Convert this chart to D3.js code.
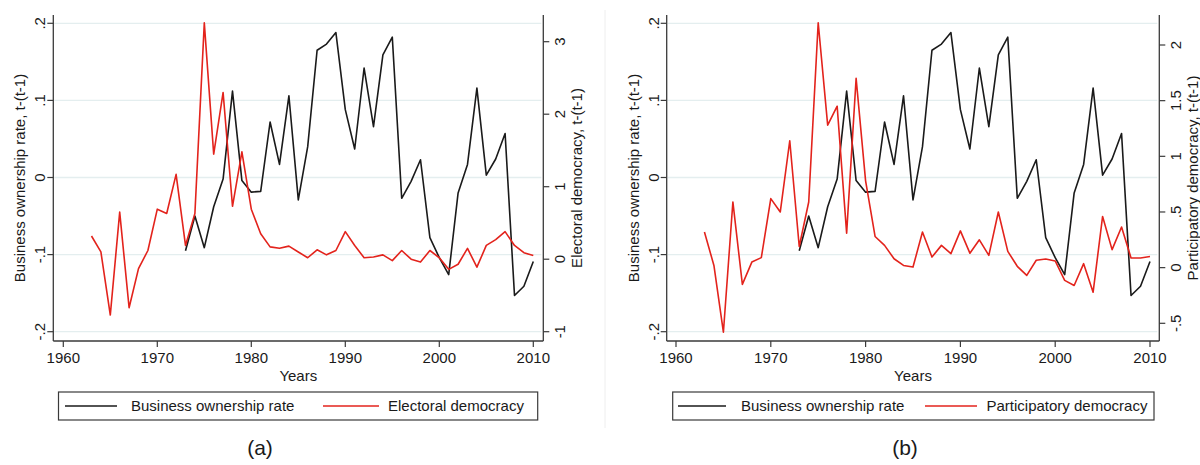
<!DOCTYPE html>
<html>
<head>
<meta charset="utf-8">
<script src="https://cdn.jsdelivr.net/npm/d3@7"></script>
<style>
  html, body { margin: 0; padding: 0; background: #fff; }
  svg { display: block; font-family: "Liberation Sans", Arial, sans-serif; }
</style>
</head>
<body>
<svg id="chart" width="1200" height="465"></svg>
<script>
// ---------- data ----------
const ownershipYears = [1973,1974,1975,1976,1977,1978,1979,1980,1981,1982,1983,1984,1985,1986,1987,1988,1989,1990,1991,1992,1993,1994,1995,1996,1997,1998,1999,2000,2001,2002,2003,2004,2005,2006,2007,2008,2009,2010];
const ownershipRate = [-0.095,-0.050,-0.091,-0.038,-0.002,0.112,-0.004,-0.019,-0.018,0.072,0.017,0.106,-0.029,0.040,0.165,0.173,0.188,0.088,0.037,0.142,0.066,0.159,0.182,-0.027,-0.005,0.023,-0.078,-0.104,-0.126,-0.020,0.017,0.116,0.003,0.024,0.057,-0.153,-0.141,-0.109];

const democracyYears = [1963,1964,1965,1966,1967,1968,1969,1970,1971,1972,1973,1974,1975,1976,1977,1978,1979,1980,1981,1982,1983,1984,1985,1986,1987,1988,1989,1990,1991,1992,1993,1994,1995,1996,1997,1998,1999,2000,2001,2002,2003,2004,2005,2006,2007,2008,2009,2010];
const electoralDemocracy = [0.32,0.10,-0.77,0.65,-0.67,-0.13,0.12,0.69,0.63,1.17,0.19,0.63,3.26,1.45,2.30,0.73,1.48,0.69,0.35,0.17,0.15,0.18,0.10,0.02,0.13,0.06,0.12,0.38,0.19,0.02,0.03,0.06,-0.02,0.12,0.00,-0.04,0.12,0.02,-0.14,-0.07,0.15,-0.11,0.19,0.27,0.38,0.19,0.09,0.05];
const participatoryDemocracy = [0.32,0.02,-0.58,0.59,-0.15,0.05,0.09,0.62,0.50,1.14,0.19,0.59,2.20,1.28,1.45,0.31,1.70,0.78,0.28,0.20,0.08,0.02,0.005,0.32,0.095,0.20,0.126,0.33,0.13,0.25,0.11,0.50,0.146,0.012,-0.07,0.066,0.077,0.06,-0.114,-0.16,0.036,-0.22,0.46,0.162,0.365,0.087,0.087,0.10];

const xTicks = [1960,1970,1980,1990,2000,2010];
const leftTicks = [-0.2,-0.1,0,0.1,0.2];
const leftTickLabels = ["-.2","-.1","0",".1",".2"];
const electoralTicks = [-1,0,1,2,3];
const electoralTickLabels = ["-1","0","1","2","3"];
const participatoryTicks = [-0.5,0,0.5,1,1.5,2];
const participatoryTickLabels = ["-.5","0",".5","1","1.5","2"];

const seriesNames = ["Business ownership rate","Electoral democracy","Participatory democracy"];
const panelLabels = ["(a)","(b)"];
const leftTitle = "Business ownership rate, t-(t-1)";
const rightTitles = ["Electoral democracy, t-(t-1)","Participatory democracy, t-(t-1)"];
const xTitle = "Years";

// ---------- drawing ----------
const svg = d3.select("#chart");
const BLACK = "#1a1a1a", RED = "#e3231c", AXIS = "#3a3a3a", GRID = "#e4eeef";
const FONT = 15;

function drawPanel(cfg) {
  const g = svg.append("g");
  const x = d3.scaleLinear().domain([1960, 2010]).range([cfg.x0, cfg.x1]);
  const yL = d3.scaleLinear().domain([-0.2, 0.2]).range([331.7, 23.3]);
  const yR = d3.scaleLinear().domain(cfg.rDomain).range(cfg.rRange);
  const top = 15, bottom = 341;

  // gridlines
  g.selectAll("line.grid").data(leftTicks).enter().append("line")
    .attr("x1", cfg.axL + 1).attr("x2", cfg.axR - 2)
    .attr("y1", d => yL(d)).attr("y2", d => yL(d))
    .attr("stroke", GRID).attr("stroke-width", 1.3);

  // axis lines
  g.append("line").attr("x1", cfg.axL).attr("x2", cfg.axL).attr("y1", top).attr("y2", bottom)
    .attr("stroke", AXIS).attr("stroke-width", 1.3);
  g.append("line").attr("x1", cfg.axR).attr("x2", cfg.axR).attr("y1", top).attr("y2", bottom)
    .attr("stroke", AXIS).attr("stroke-width", 1.3);
  g.append("line").attr("x1", cfg.axL).attr("x2", cfg.axR).attr("y1", bottom).attr("y2", bottom)
    .attr("stroke", AXIS).attr("stroke-width", 1.3);

  // x ticks
  xTicks.forEach(t => {
    g.append("line").attr("x1", x(t)).attr("x2", x(t)).attr("y1", bottom).attr("y2", bottom + 6)
      .attr("stroke", AXIS).attr("stroke-width", 1.2);
    g.append("text").attr("x", x(t)).attr("y", bottom + 22).attr("text-anchor", "middle")
      .attr("font-size", FONT).attr("fill", "#1a1a1a").text(t);
  });
  g.append("text").attr("x", (cfg.axL + cfg.axR) / 2).attr("y", 381).attr("text-anchor", "middle")
    .attr("font-size", FONT).attr("fill", "#1a1a1a").text(xTitle);

  // left ticks
  leftTicks.forEach((t, i) => {
    g.append("line").attr("x1", cfg.axL - 6).attr("x2", cfg.axL).attr("y1", yL(t)).attr("y2", yL(t))
      .attr("stroke", AXIS).attr("stroke-width", 1.2);
    g.append("text").attr("transform", `translate(${cfg.axL - 8},${yL(t)}) rotate(-90)`)
      .attr("text-anchor", "middle").attr("font-size", FONT).attr("fill", "#1a1a1a").text(leftTickLabels[i]);
  });
  g.append("text").attr("transform", `translate(${cfg.axL - 28},${(top + bottom) / 2}) rotate(-90)`)
    .attr("text-anchor", "middle").attr("font-size", FONT).attr("fill", "#1a1a1a").text(leftTitle);

  // right ticks
  cfg.rTicks.forEach((t, i) => {
    g.append("line").attr("x1", cfg.axR).attr("x2", cfg.axR + 6).attr("y1", yR(t)).attr("y2", yR(t))
      .attr("stroke", AXIS).attr("stroke-width", 1.2);
    g.append("text").attr("transform", `translate(${cfg.axR + 22},${yR(t)}) rotate(-90)`)
      .attr("text-anchor", "middle").attr("font-size", FONT).attr("fill", "#1a1a1a").text(cfg.rLabels[i]);
  });
  g.append("text").attr("transform", `translate(${cfg.axR + 39},${(top + bottom) / 2}) rotate(-90)`)
    .attr("text-anchor", "middle").attr("font-size", FONT).attr("fill", "#1a1a1a").text(cfg.rTitle);

  // lines
  const lineL = d3.line().x(d => x(d[0])).y(d => yL(d[1]));
  const lineR = d3.line().x(d => x(d[0])).y(d => yR(d[1]));
  g.append("path").datum(ownershipYears.map((yr, i) => [yr, ownershipRate[i]]))
    .attr("d", lineL).attr("fill", "none").attr("stroke", BLACK).attr("stroke-width", 1.6)
    .attr("stroke-linejoin", "round");
  g.append("path").datum(democracyYears.map((yr, i) => [yr, cfg.rValues[i]]))
    .attr("d", lineR).attr("fill", "none").attr("stroke", RED).attr("stroke-width", 1.6)
    .attr("stroke-linejoin", "round");

  // legend
  const lg = g.append("g");
  lg.append("rect").attr("x", cfg.legX0).attr("y", 392).attr("width", cfg.legX1 - cfg.legX0).attr("height", 28)
    .attr("fill", "#fff").attr("stroke", "#3a3a3a").attr("stroke-width", 1.2);
  lg.append("line").attr("x1", cfg.leg[0]).attr("x2", cfg.leg[1]).attr("y1", 406).attr("y2", 406)
    .attr("stroke", BLACK).attr("stroke-width", 1.5);
  lg.append("text").attr("x", cfg.leg[2]).attr("y", 411).attr("font-size", FONT).attr("fill", "#1a1a1a")
    .text(seriesNames[0]);
  lg.append("line").attr("x1", cfg.leg[3]).attr("x2", cfg.leg[4]).attr("y1", 406).attr("y2", 406)
    .attr("stroke", RED).attr("stroke-width", 1.5);
  lg.append("text").attr("x", cfg.leg[5]).attr("y", 411).attr("font-size", FONT).attr("fill", "#1a1a1a")
    .text(cfg.rName);

  g.append("text").attr("x", cfg.labelX).attr("y", 455).attr("text-anchor", "middle")
    .attr("font-size", 21).attr("fill", "#1a1a1a").text(cfg.label);
}

drawPanel({
  x0: 63.3, x1: 533.3, axL: 53.3, axR: 543.3,
  rDomain: [-1, 3], rRange: [331.7, 41.7],
  rTicks: electoralTicks, rLabels: electoralTickLabels, rTitle: rightTitles[0],
  rValues: electoralDemocracy, rName: seriesNames[1],
  legX0: 58.5, legX1: 537.7, leg: [65, 117, 131, 323, 379, 388],
  label: panelLabels[0], labelX: 260
});

// faint frame of panel (b)
svg.append("line").attr("x1", 605).attr("x2", 605).attr("y1", 10).attr("y2", 428)
  .attr("stroke", "#eeeeee").attr("stroke-width", 1);

drawPanel({
  x0: 676, x1: 1150, axL: 666.7, axR: 1159.3,
  rDomain: [-0.5, 2], rRange: [323.3, 45],
  rTicks: participatoryTicks, rLabels: participatoryTickLabels, rTitle: rightTitles[1],
  rValues: participatoryDemocracy, rName: seriesNames[2],
  legX0: 672.7, legX1: 1154, leg: [678, 726, 741, 925, 977, 986.5],
  label: panelLabels[1], labelX: 905
});
</script>
</body>
</html>
